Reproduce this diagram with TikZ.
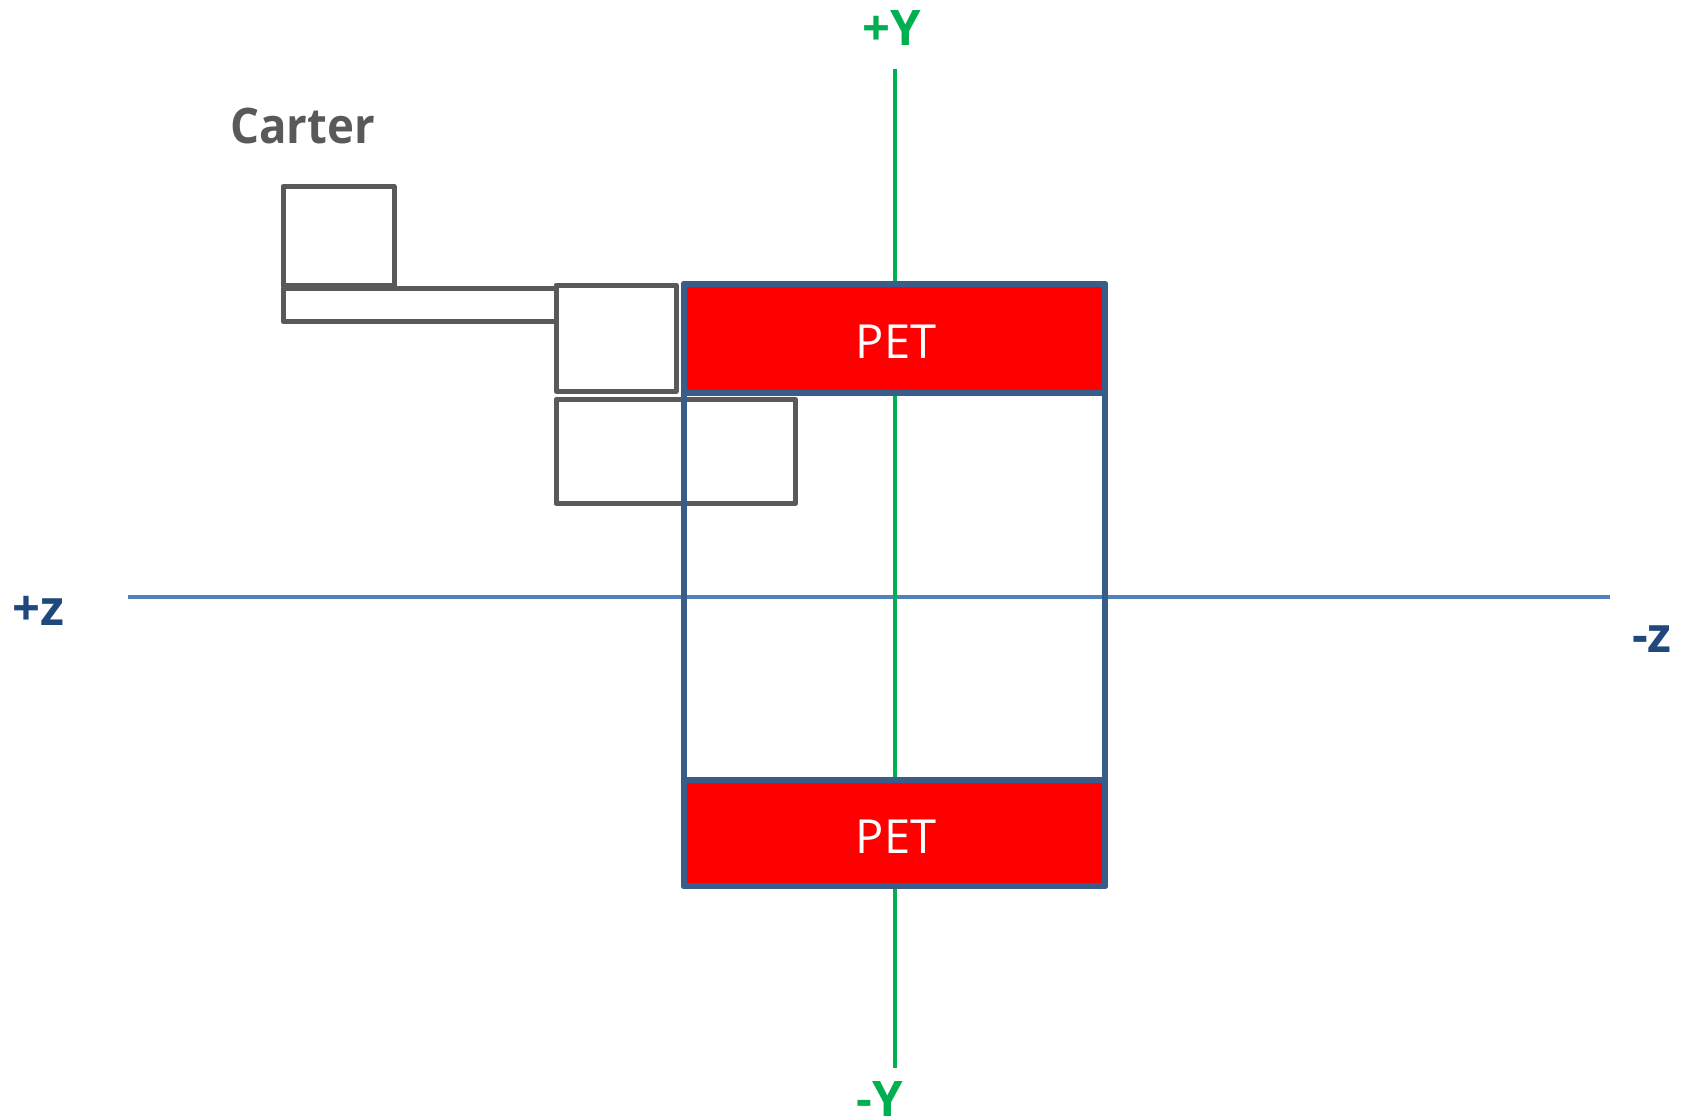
\documentclass[tikz,border=0pt]{standalone}
\usepackage{fontspec}
\newfontfamily\labfont{Open Sans}
\definecolor{axgreen}{HTML}{00B050}
\definecolor{axblue}{HTML}{4F81BD}
\definecolor{framecol}{HTML}{385D8A}
\definecolor{zlab}{HTML}{1F497D}
\definecolor{boxgray}{HTML}{595959}
\definecolor{petred}{HTML}{FF0000}
\tikzset{
  grayrect/.style={draw=boxgray, line width=5pt, line join=round, rectangle, inner sep=0pt, outer sep=0pt, anchor=north west},
  petbox/.style={fill=petred, draw=framecol, line width=6pt, line join=round, rectangle, inner sep=0pt, outer sep=0pt, anchor=north west, minimum width=421pt},
  frm/.style={draw=framecol, line width=6pt, line join=round, rectangle, inner sep=0pt, outer sep=0pt, anchor=north west},
  biglab/.style={font=\labfont\bfseries\fontsize{49}{49}\selectfont, inner sep=0pt, anchor=base},
  petlab/.style={font=\labfont\fontsize{47}{47}\selectfont, text=white, inner sep=0pt, anchor=base},
  yaxis/.style={draw=axgreen, line width=4pt},
  zaxis/.style={draw=axblue, line width=4pt}
}
\begin{document}
\begin{tikzpicture}[x=1pt,y=-1pt]
\useasboundingbox (0,0) rectangle (1681,1117);
% gray boxes
\node[grayrect, minimum width=111pt, minimum height=99pt] (boxA) at (283,186.5) {};
\node[grayrect, minimum width=273pt, minimum height=33.5pt] (bar) at (283,288) {};
\node[grayrect, minimum width=120pt, minimum height=106pt] (boxC) at (556,285) {};
\node[grayrect, minimum width=239.5pt, minimum height=104pt] (boxD) at (556,399.5) {};
\node[biglab, text=boxgray, anchor=base west] (carter) at (230,143) {\scalebox{0.93}[1]{Carter}};
% axes
\coordinate (zl) at (128,597);
\coordinate (zr) at (1610,597);
\coordinate (yt) at (895,69);
\coordinate (yb) at (895,1068);
\draw[zaxis] (zl) -- (zr);
\draw[yaxis] (yt) -- (yb);
% PET boxes and frame
\node[petbox, minimum height=109pt] (pettop) at (684,284) {};
\node[petbox, minimum height=106pt] (petbot) at (684,780) {};
\node[frm, minimum width=421pt, minimum height=602pt] (frame) at (684,284) {};
\node[petlab] (pettxt1) at (896,358) {PET};
\node[petlab] (pettxt2) at (896,853) {PET};
% labels
\node[biglab, text=axgreen] (ylabtop) at (892,45) {+Y};
\node[biglab, text=axgreen] (ylabbot) at (880,1116) {-Y};
\node[biglab, text=zlab] (zlabl) at (38,625) {+z};
\node[biglab, text=zlab] (zlabr) at (1652,652) {-z};
\end{tikzpicture}
\end{document}
